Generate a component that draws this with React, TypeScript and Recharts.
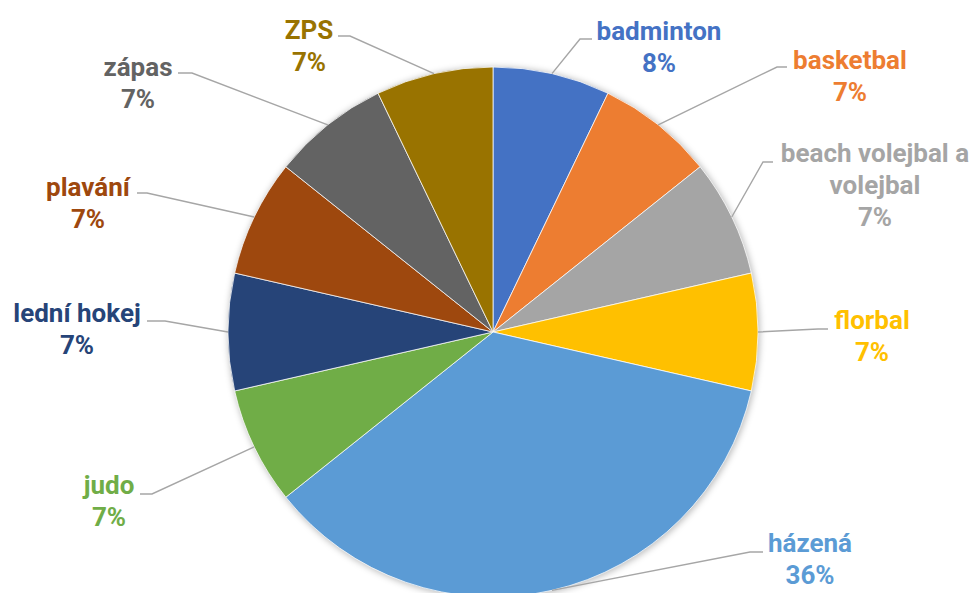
import React from "react";
import { PieChart, Pie, Cell } from "recharts";

const categories = [
  "badminton",
  "basketbal",
  "beach volejbal a volejbal",
  "florbal",
  "házená",
  "judo",
  "lední hokej",
  "plavání",
  "zápas",
  "ZPS",
];
const counts = [1, 1, 1, 1, 5, 1, 1, 1, 1, 1];
const colors = [
  "#4472C4",
  "#ED7D31",
  "#A5A5A5",
  "#FFC000",
  "#5B9BD5",
  "#70AD47",
  "#264478",
  "#9E480E",
  "#636363",
  "#997300",
];

// label name lines (how the category name wraps)
const nameLines: string[][] = [
  ["badminton"],
  ["basketbal"],
  ["beach volejbal a", "volejbal"],
  ["florbal"],
  ["házená"],
  ["judo"],
  ["lední hokej"],
  ["plavání"],
  ["zápas"],
  ["ZPS"],
];

// layout of labels: text centre x, first line centre y, leader end (x,y), elbow x
const labelLayout = [
  { tx: 659, ty: 31, ex: 592, ey: 39, bx: 580 },
  { tx: 850, ty: 60, ex: 787, ey: 67, bx: 777 },
  { tx: 875, ty: 153, ex: 773, ey: 162, bx: 763 },
  { tx: 872, ty: 320, ex: 828, ey: 329, bx: 818 },
  { tx: 810, ty: 543, ex: 763, ey: 552, bx: 750 },
  { tx: 109, ty: 485, ex: 140, ey: 494, bx: 152 },
  { tx: 77, ty: 313, ex: 147, ey: 321, bx: 165 },
  { tx: 88, ty: 187, ex: 137, ey: 193, bx: 147 },
  { tx: 138, ty: 67, ex: 178, ey: 73, bx: 192 },
  { tx: 309, ty: 30, ex: 338, ey: 36, bx: 350 },
];

// percentages rounded so they sum to 100 (largest remainder)
function roundedPercents(vals: number[]): number[] {
  const total = vals.reduce((a, b) => a + b, 0);
  const raw = vals.map((v) => (v / total) * 100);
  const floors = raw.map((r) => Math.floor(r));
  let rest = 100 - floors.reduce((a, b) => a + b, 0);
  const order = raw
    .map((r, i) => ({ i, rem: r - Math.floor(r) }))
    .sort((a, b) => b.rem - a.rem || a.i - b.i);
  const out = floors.slice();
  for (let k = 0; k < order.length && rest > 0; k++, rest--) out[order[k].i] += 1;
  return out;
}
const percents = roundedPercents(counts);

const data = categories.map((name, i) => ({ name, value: counts[i] }));

const FONT = "Roboto, 'Noto Sans', sans-serif";
const LH = 32;

const renderLabel = (props: any) => {
  const { cx, cy, midAngle, outerRadius, index } = props;
  const RAD = Math.PI / 180;
  const sx = cx + outerRadius * Math.cos(-midAngle * RAD);
  const sy = cy + outerRadius * Math.sin(-midAngle * RAD);
  const L = labelLayout[index];
  const lines = [...nameLines[index], `${percents[index]}%`];
  return (
    <g key={`lbl-${index}`}>
      <polyline
        points={`${sx},${sy} ${L.bx},${L.ey} ${L.ex},${L.ey}`}
        fill="none"
        stroke="#A6A6A6"
        strokeWidth={1.4}
      />
      <text
        textAnchor="middle"
        fill={colors[index]}
        fontFamily={FONT}
        fontWeight={700}
        fontSize={26}
      >
        {lines.map((ln, j) => (
          <tspan key={j} x={L.tx} y={L.ty + j * LH} dominantBaseline="central">
            {ln}
          </tspan>
        ))}
      </text>
    </g>
  );
};

export default function App() {
  return (
    <div style={{ position: "absolute", left: 0, top: 0, width: 973, height: 593, background: "#fff" }}>
      <svg width={0} height={0} style={{ position: "absolute" }}>
        <defs>
          <filter id="pieShadow" x="-20%" y="-20%" width="140%" height="140%">
            <feGaussianBlur stdDeviation="3" />
          </filter>
        </defs>
      </svg>
      <PieChart width={973} height={593} margin={{ top: 0, right: 0, bottom: 0, left: 0 }}>
        <Pie
          data={[{ name: "shadow", value: 1 }]}
          dataKey="value"
          cx={494}
          cy={333}
          outerRadius={266}
          startAngle={90}
          endAngle={-270}
          fill="#000"
          fillOpacity={0.25}
          stroke="none"
          filter="url(#pieShadow)"
          isAnimationActive={false}
          label={false}
          labelLine={false}
        />
        <Pie
          data={data}
          dataKey="value"
          nameKey="name"
          cx={493}
          cy={332}
          outerRadius={265}
          startAngle={90}
          endAngle={-270}
          stroke="#fff"
          strokeWidth={0.75}
          isAnimationActive={false}
          labelLine={false}
          label={renderLabel}
        >
          {data.map((d, i) => (
            <Cell key={d.name} fill={colors[i]} />
          ))}
        </Pie>
      </PieChart>
    </div>
  );
}
